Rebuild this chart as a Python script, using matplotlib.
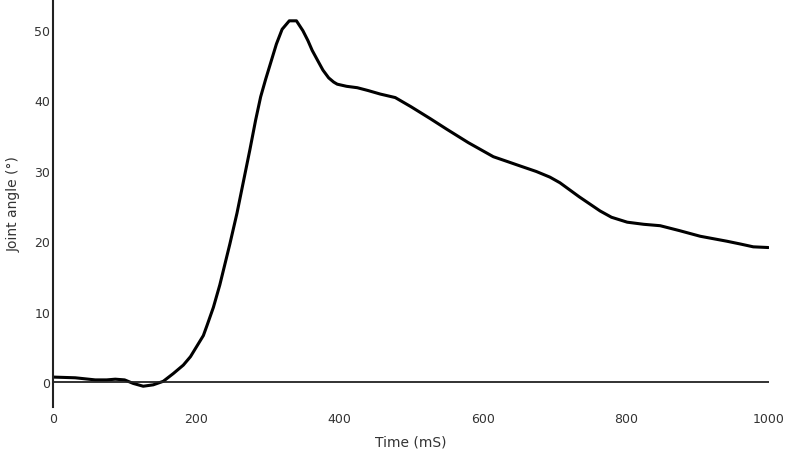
import matplotlib
matplotlib.use("Agg")
import matplotlib.pyplot as plt

# Curva
tempo_ms = [0, 31, 59, 75, 87, 100, 112, 126, 140, 154, 168, 182, 192, 201, 210, 215, 224, 233, 247, 257,
            266, 275, 283, 290, 297, 303, 312, 320, 330, 340, 349, 356, 362, 370, 377, 385,
            392, 397, 410, 425, 440, 457, 478, 500, 527, 550, 580, 615, 635, 652, 675, 694,
            708, 735, 764, 780, 802, 825, 848, 875, 904, 941, 960, 978, 999]
angulo = [0.7, 0.6, 0.3, 0.3, 0.4, 0.3, -0.2, -0.6, -0.4, 0.1, 1.2, 2.4, 3.6, 5.1, 6.6, 8.0, 10.6, 13.8, 19.6, 24.0,
          28.5, 33.0, 37.2, 40.5, 43.0, 45.0, 48.0, 50.1, 51.3, 51.3, 49.9, 48.5, 47.1, 45.6, 44.3, 43.2,
          42.6, 42.3, 42.0, 41.8, 41.4, 40.9, 40.4, 39.1, 37.4, 35.9, 34.0, 32.0, 31.3, 30.7, 29.9, 29.1,
          28.3, 26.3, 24.3, 23.4, 22.7, 22.4, 22.2, 21.5, 20.7, 20.0, 19.6, 19.2, 19.1]

cor_texto = "#333333"

fig = plt.figure(figsize=(7.87, 4.52), dpi=100)
ax = fig.add_axes([53 / 787, 1 - 408 / 452, (769 - 53) / 787, 408 / 452])

ax.plot(tempo_ms, angulo, color="black", linewidth=2.2,
        solid_joinstyle="round", solid_capstyle="round")
ax.axhline(0, color="#222222", linewidth=1.3)

ax.set_xlim(0, 1000)
ax.set_ylim(-3.55, 54.4)
ax.set_xticks([0, 200, 400, 600, 800, 1000])
ax.set_yticks([0, 10, 20, 30, 40, 50])

for lado in ["top", "right", "bottom"]:
    ax.spines[lado].set_visible(False)
ax.spines["left"].set_color("#222222")
ax.spines["left"].set_linewidth(1.5)

ax.tick_params(axis="both", length=0, labelsize=9, labelcolor=cor_texto)
ax.tick_params(axis="x", pad=3.5)
ax.tick_params(axis="y", pad=2)

ax.set_xlabel("Time (mS)", fontsize=10, color=cor_texto, labelpad=7)
ax.set_ylabel("Joint angle (°)", fontsize=10, color=cor_texto, labelpad=10)

plt.savefig("out.png", dpi=100)
